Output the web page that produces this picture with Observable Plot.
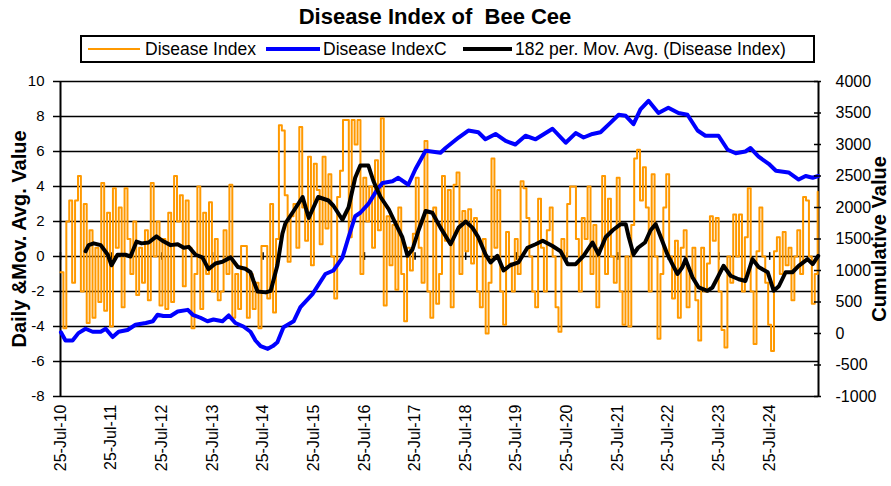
<!DOCTYPE html>
<html><head><meta charset="utf-8">
<script src="https://cdn.jsdelivr.net/npm/d3@7"></script>
<script src="https://cdn.jsdelivr.net/npm/@observablehq/plot@0.6"></script>
<style>
body{margin:0;background:#fff;font-family:"Liberation Sans",Arial,sans-serif;}
#wrap{width:891px;}
#hdr{position:relative;width:891px;height:66px;}
#title{position:absolute;left:0;top:5px;width:870px;text-align:center;font-weight:bold;font-size:22px;line-height:24px;}
#legend{position:absolute;left:80px;top:35px;width:731px;height:24px;border:2px solid #000;}
.sw{position:absolute;height:0;}
.lt{position:absolute;top:2px;font-size:17.5px;line-height:20px;white-space:nowrap;}
#chart svg{display:block;}
</style></head><body>
<div id="wrap"><div id="hdr"><div id="title">Disease Index of&nbsp; Bee Cee</div><div id="legend"></div></div><div id="chart"></div></div>
<script>
// ---- data ----
const seriesNames = ["Disease Index", "Disease IndexC", "182 per. Mov. Avg. (Disease Index)"];
const startDate = "2010-07-25";
const endDate = "2025-07-12";
const stepDays = 21; // daily index sampled every 21 days
const diseaseIndex = [
 -0.9,-4.1,2.0,3.2,-1.5,3.2,4.6,-2.0,3.0,-3.8,
 1.5,-3.5,0.5,-2.6,4.2,-3.1,2.5,-4.0,3.9,0.5,
 2.8,-2.9,3.9,1.0,-1.0,2.0,-2.2,0.5,-1.5,1.5,
 -2.5,4.2,0.0,2.0,-2.8,1.0,-3.0,2.5,-2.6,4.6,
 2.0,3.5,-1.7,3.2,0.5,-4.1,-1.0,4.0,-3.0,2.5,
 -1.0,3.1,-2.0,1.0,-2.5,-2.0,1.5,-1.0,4.1,-3.5,
 -1.0,-3.0,0.6,0.6,-3.5,-1.0,-3.0,-1.5,-4.1,0.6,
 0.6,-2.4,3.0,-3.2,1.0,7.5,7.2,3.5,-0.3,2.3,
 3.0,0.5,7.4,2.8,0.9,5.7,-0.5,5.3,3.8,0.7,
 5.7,1.6,4.7,0.0,-2.4,3.4,4.9,7.8,7.8,1.1,
 7.8,6.4,7.8,-1.0,4.5,2.0,4.0,0.5,5.5,1.5,
 7.9,-2.8,2.3,-0.5,1.8,-1.9,2.8,-1.0,-3.7,0.5,
 -0.8,1.3,4.5,0.5,-1.5,6.6,-2.0,-3.5,2.8,-2.7,
 -1.0,4.6,0.9,3.8,-2.9,4.1,4.8,-1.0,2.6,0.3,
 2.7,-0.4,2.2,-2.0,-2.9,1.0,-4.4,-1.5,5.6,0.5,
 3.8,-2.0,-3.9,1.4,-0.4,-2.0,1.0,-1.0,4.3,3.9,
 2.2,0.0,-2.0,-2.9,3.3,0.5,-2.0,1.5,2.8,0.0,
 -2.9,-4.3,1.0,0.0,3.0,4.0,4.0,1.0,-2.0,2.2,
 1.0,4.0,-1.0,1.8,-2.9,0.5,4.6,-1.0,3.3,0.0,
 -1.5,4.5,-2.0,-3.9,0.0,-4.0,1.8,5.6,6.1,3.2,
 5.1,2.8,-2.0,4.7,0.0,-4.7,-1.0,2.8,4.7,0.0,
 -2.4,0.9,-3.5,0.5,1.5,-2.9,-1.0,0.5,-2.5,-4.8,
 0.5,-2.0,-0.4,2.3,0.9,2.2,-2.0,-4.2,-5.2,0.0,
 -1.5,2.4,0.0,2.4,-2.0,1.1,3.9,-2.0,-5.0,0.3,
 2.8,0.0,-1.5,-3.9,-5.4,0.3,1.1,-1.0,1.4,-0.5,
 0.5,-2.5,0.0,1.5,-1.0,3.4,3.2,0.0,-2.7,-1.0,
 3.7
];
const cumDates = ["2010-07-28","2010-08-30","2010-10-20","2010-12-01","2011-01-22","2011-03-14","2011-05-11","2011-06-16","2011-08-05","2011-09-17","2011-11-20","2012-01-17","2012-03-31","2012-05-21","2012-06-24","2012-08-05","2012-09-26","2012-11-16","2013-01-28","2013-03-05","2013-04-29","2013-06-19","2013-08-01","2013-10-05","2013-11-19","2014-01-06","2014-03-05","2014-04-25","2014-05-31","2014-07-07","2014-08-28","2014-10-03","2014-11-05","2014-12-19","2015-03-02","2015-04-20","2015-07-16","2015-10-17","2015-12-14","2016-02-17","2016-04-01","2016-05-19","2016-06-25","2016-08-22","2016-10-27","2016-12-02","2017-02-12","2017-03-26","2017-06-06","2017-07-28","2017-10-09","2018-01-24","2018-03-02","2018-06-04","2018-08-13","2018-10-24","2018-12-14","2019-02-25","2019-05-09","2019-07-18","2019-09-29","2019-12-11","2020-04-11","2020-07-15","2020-09-25","2020-11-21","2021-01-24","2021-03-23","2021-06-04","2021-08-01","2021-09-21","2021-11-16","2022-01-05","2022-03-04","2022-05-15","2022-07-25","2022-10-06","2022-12-10","2023-02-21","2023-04-18","2023-07-22","2023-09-26","2023-11-23","2024-02-01","2024-03-09","2024-05-06","2024-07-18","2024-09-08","2024-12-08","2025-02-19","2025-04-10","2025-05-31","2025-07-10"];
const cumValues = [20,-111,-111,6,75,28,28,75,-56,28,56,139,167,194,297,278,278,350,375,297,250,194,222,194,286,167,111,28,-111,-200,-244,-200,-139,100,194,420,625,944,1000,1206,1528,1861,1917,2056,2292,2389,2417,2472,2361,2611,2900,2870,2944,3111,3222,3194,3083,3167,3056,3000,3139,3083,3250,3028,3181,3111,3167,3194,3347,3472,3456,3322,3556,3694,3500,3583,3500,3472,3222,3139,3139,2917,2861,2889,2944,2806,2694,2583,2556,2444,2500,2472,2500];
const maDates = ["2011-01-22","2011-02-13","2011-03-21","2011-05-11","2011-07-01","2011-07-28","2011-09-09","2011-11-05","2011-12-12","2012-01-24","2012-03-01","2012-04-21","2012-06-16","2012-07-29","2012-09-26","2012-11-16","2012-12-30","2013-02-04","2013-03-25","2013-05-13","2013-06-26","2013-08-15","2013-10-05","2013-12-03","2014-01-24","2014-03-19","2014-04-25","2014-05-17","2014-06-15","2014-08-13","2014-09-18","2014-11-05","2014-12-11","2015-01-02","2015-03-02","2015-05-06","2015-06-19","2015-08-26","2015-11-08","2015-12-14","2016-02-17","2016-04-01","2016-05-19","2016-06-25","2016-08-22","2016-09-28","2016-11-18","2017-01-16","2017-03-05","2017-04-24","2017-05-31","2017-07-06","2017-08-19","2017-10-09","2017-11-26","2018-01-24","2018-04-07","2018-06-04","2018-07-25","2018-09-11","2018-10-24","2018-12-14","2019-01-20","2019-03-11","2019-04-24","2019-06-11","2019-08-09","2019-10-13","2019-12-11","2020-01-31","2020-04-11","2020-06-08","2020-07-29","2020-09-25","2020-11-21","2021-01-24","2021-03-09","2021-04-29","2021-06-19","2021-08-15","2021-09-21","2021-10-13","2021-11-16","2021-12-19","2022-02-07","2022-03-19","2022-04-25","2022-06-01","2022-07-18","2022-08-23","2022-09-29","2022-11-04","2022-11-26","2023-01-16","2023-03-01","2023-05-03","2023-06-08","2023-07-22","2023-08-27","2023-10-17","2023-12-15","2024-02-01","2024-03-23","2024-05-06","2024-07-11","2024-08-23","2024-09-29","2024-11-17","2025-01-05","2025-02-19","2025-04-24","2025-05-31","2025-07-10"];
const maValues = [0.3,0.65,0.75,0.65,0.1,-0.5,0.1,0.1,0.0,0.85,0.75,0.8,1.15,0.9,0.65,0.7,0.5,0.55,0.1,-0.05,-0.72,-0.4,-0.3,-0.05,-0.6,-0.7,-0.9,-1.4,-2.0,-2.05,-1.96,-0.5,1.3,1.9,2.6,3.4,2.2,3.4,3.2,2.9,2.1,2.8,4.5,5.2,5.2,4.3,3.4,2.7,1.9,1.1,0.05,0.4,1.5,2.6,2.5,1.65,0.7,1.65,2.0,1.65,1.1,0.13,-0.34,0.04,-0.8,-0.5,-0.34,0.5,0.7,0.9,0.6,0.3,-0.44,-0.44,0.04,0.8,0.13,1.1,1.5,1.85,1.85,1.1,0.13,0.5,0.8,1.5,1.85,1.1,0.13,-0.44,-1.0,-0.6,-0.15,-1.2,-1.77,-1.96,-1.77,-1.1,-0.53,-1.1,-1.3,-1.4,-0.15,-0.6,-0.9,-1.96,-1.7,-0.9,-0.9,-0.53,-0.15,-0.44,0.04];
const leftTicks = [-8,-6,-4,-2,0,2,4,6,8,10];
const rightTicks = [-1000,-500,0,500,1000,1500,2000,2500,3000,3500,4000];
const xTickLabels = ["25-Jul-10","25-Jul-11","25-Jul-12","25-Jul-13","25-Jul-14","25-Jul-15","25-Jul-16","25-Jul-17","25-Jul-18","25-Jul-19","25-Jul-20","25-Jul-21","25-Jul-22","25-Jul-23","25-Jul-24"];

// ---- build ----
const colors = ["#FF9900", "#0000FF", "#000000"];
const FONT = "'Liberation Sans', Arial, sans-serif";
const parse = d3.utcParse("%Y-%m-%d");
const parseTick = d3.utcParse("%d-%b-%y");
const fmtTick = d3.utcFormat("%d-%b-%y");
const start = parse(startDate), end = parse(endDate);
const orangeData = diseaseIndex.map((v, i) => ({date: d3.utcDay.offset(start, i * stepDays), value: v}));
const cumData = cumDates.map((d, i) => ({date: parse(d), value: cumValues[i]}));
const maData = maDates.map((d, i) => ({date: parse(d), value: maValues[i]}));
const tickDates = xTickLabels.map(parseTick);
// right axis (-1000..4000) mapped onto left axis (-8..10)
const toLeft = r => -8 + (r + 1000) * 18 / 5000;
const toRight = v => Math.round((v + 8) * 5000 / 18 - 1000);

// legend
const leg = document.getElementById("legend");
const legPos = [{sx: 6, sw: 52, tx: 63, w: 2}, {sx: 184, sw: 54, tx: 241, w: 4}, {sx: 381, sw: 49, tx: 433, w: 4}];
seriesNames.forEach((name, i) => {
  const p = legPos[i];
  const s = document.createElement("div");
  s.className = "sw";
  s.style.cssText = `left:${p.sx}px;width:${p.sw}px;top:${12 - p.w / 2}px;border-top:${p.w}px solid ${colors[i]};`;
  leg.appendChild(s);
  const t = document.createElement("div");
  t.className = "lt";
  t.style.left = p.tx + "px";
  t.textContent = name;
  leg.appendChild(t);
});

const chart = Plot.plot({
  width: 891, height: 420,
  marginLeft: 60, marginRight: 73, marginTop: 15, marginBottom: 90,
  style: {fontFamily: FONT, fontSize: "15px", color: "#000", background: "#fff"},
  x: {type: "utc", domain: [start, end], label: null},
  y: {domain: [-8, 10], label: null},
  marks: [
    Plot.ruleY(leftTicks, {stroke: "#000", strokeWidth: 1.5}),
    Plot.ruleX([start, end], {y1: -8, y2: 10, stroke: "#000", strokeWidth: 2}),
    Plot.ruleX(tickDates, {y1: -0.22, y2: 0.22, stroke: "#000", strokeWidth: 1.5}),
    Plot.line(orangeData, {x: "date", y: "value", stroke: colors[0], strokeWidth: 2, curve: "step-after"}),
    Plot.line(cumData, {x: "date", y: d => toLeft(d.value), stroke: colors[1], strokeWidth: 4}),
    Plot.line(maData, {x: "date", y: "value", stroke: colors[2], strokeWidth: 4}),
    Plot.axisY(leftTicks, {anchor: "left", tickSize: 7, tickPadding: 9, strokeWidth: 1.5, fontSize: 15, tickFormat: d => String(d)}),
    Plot.axisY(rightTicks.map(toLeft), {anchor: "right", tickSize: 7, tickPadding: 15, dx: -5, strokeWidth: 1.5, fontSize: 16, tickFormat: v => String(toRight(v))}),
    Plot.axisX(tickDates, {anchor: "bottom", tickSize: 0, tickPadding: 8, tickRotate: -90, fontSize: 16, letterSpacing: "0.5px", tickFormat: fmtTick}),
    Plot.text(["Daily &Mov. Avg. Value"], {frameAnchor: "left", dx: -41, rotate: -90, textAnchor: "middle", fontWeight: "bold", fontSize: 20}),
    Plot.text(["Cumulative Value"], {frameAnchor: "right", dx: 61, rotate: -90, textAnchor: "middle", fontWeight: "bold", fontSize: 20})
  ]
});
document.getElementById("chart").appendChild(chart);
</script>
</body></html>
